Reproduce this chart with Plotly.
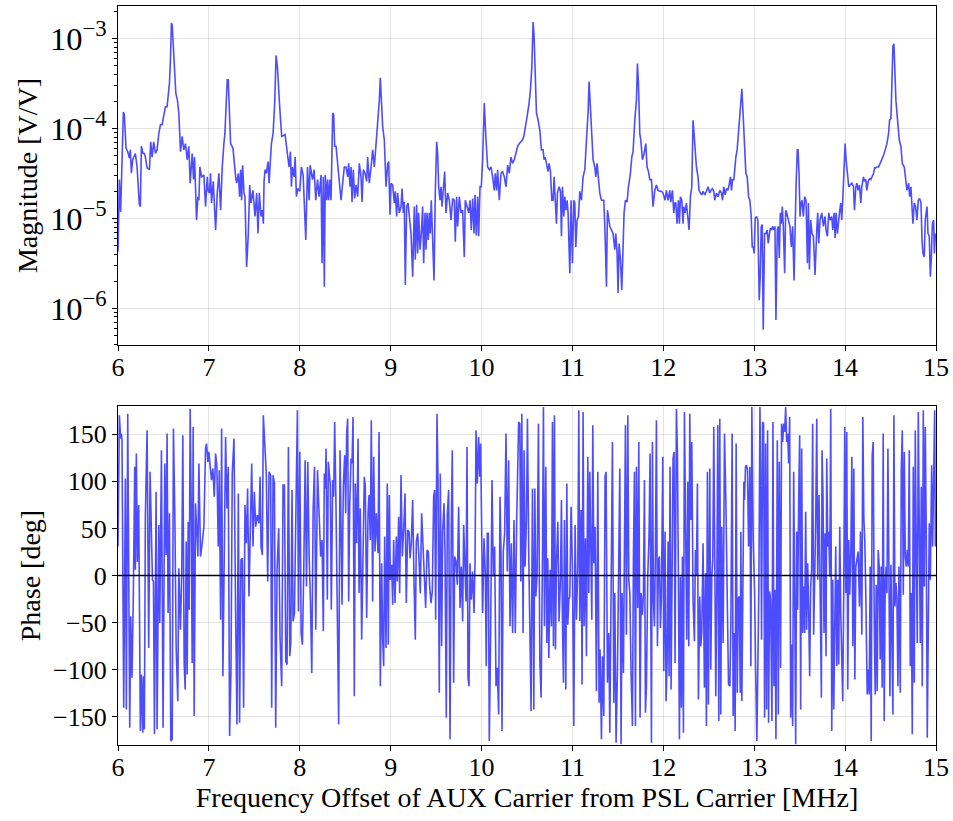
import plotly.graph_objects as go

# ---------------- magnitude data (frequency offset in MHz, log10 of |H| in V/V) ----------------
mag_freq_mhz = [
    6.000, 6.015, 6.029, 6.059, 6.070, 6.088, 6.107, 6.125, 6.136, 6.147,
    6.162, 6.191, 6.210, 6.235, 6.246, 6.257, 6.276, 6.290, 6.301, 6.320,
    6.346, 6.360, 6.375, 6.393, 6.412, 6.430, 6.449, 6.467, 6.485, 6.504,
    6.522, 6.540, 6.551, 6.566, 6.577, 6.588, 6.596, 6.614, 6.636, 6.654,
    6.669, 6.688, 6.706, 6.724, 6.743, 6.761, 6.779, 6.794, 6.816, 6.831,
    6.842, 6.864, 6.879, 6.890, 6.901, 6.919, 6.945, 6.963, 6.982, 6.993,
    7.007, 7.018, 7.029, 7.048, 7.074, 7.092, 7.110, 7.129, 7.147, 7.165,
    7.176, 7.202, 7.213, 7.239, 7.265, 7.294, 7.305, 7.324, 7.338, 7.349,
    7.360, 7.371, 7.386, 7.397, 7.415, 7.434, 7.449, 7.463, 7.485, 7.507,
    7.526, 7.540, 7.555, 7.574, 7.588, 7.599, 7.607, 7.618, 7.632, 7.651,
    7.662, 7.676, 7.688, 7.706, 7.724, 7.739, 7.754, 7.779, 7.801, 7.838,
    7.864, 7.882, 7.897, 7.908, 7.919, 7.938, 7.949, 7.963, 7.978, 8.000,
    8.018, 8.037, 8.066, 8.085, 8.103, 8.114, 8.140, 8.158, 8.176, 8.195,
    8.213,
    8.234, 8.245, 8.259, 8.270, 8.281, 8.296, 8.307, 8.318, 8.333, 8.344,
    8.362, 8.373, 8.384, 8.399, 8.417, 8.435, 8.454, 8.472, 8.490, 8.509,
    8.527, 8.538, 8.553, 8.564, 8.575, 8.589, 8.604, 8.619, 8.637, 8.655,
    8.674, 8.685, 8.699, 8.718, 8.736, 8.747, 8.765, 8.784, 8.802, 8.820,
    8.839, 8.857, 8.875, 8.886, 8.901, 8.912, 8.930, 8.949, 8.967, 8.978,
    8.993, 9.004, 9.022, 9.040, 9.051, 9.066, 9.077, 9.095, 9.114, 9.125,
    9.139, 9.150, 9.161, 9.176, 9.191, 9.205, 9.224, 9.242, 9.260, 9.271,
    9.286, 9.297, 9.308, 9.323, 9.337, 9.352, 9.363, 9.378, 9.389, 9.400,
    9.414, 9.425, 9.436, 9.447, 9.462, 9.477, 9.491, 9.506, 9.517, 9.528,
    9.543, 9.554, 9.565, 9.579, 9.594, 9.609, 9.627, 9.645, 9.664, 9.682,
    9.700, 9.711, 9.726, 9.737, 9.755, 9.774, 9.792, 9.810, 9.821, 9.840,
    9.858, 9.873, 9.887, 9.902, 9.917, 9.928, 9.942, 9.957, 9.968, 9.983,
    9.997, 10.012, 10.030, 10.049, 10.067, 10.085, 10.104, 10.122, 10.140, 10.151,
    10.166, 10.177, 10.195, 10.214, 10.232, 10.250, 10.269, 10.287, 10.305, 10.324,
    10.342, 10.360, 10.379, 10.397, 10.415,
    10.428, 10.450, 10.465, 10.487, 10.501, 10.523, 10.538, 10.553, 10.567, 10.578,
    10.589, 10.604, 10.622, 10.641, 10.659, 10.677, 10.688, 10.699, 10.714, 10.732,
    10.743, 10.758, 10.773, 10.787, 10.798, 10.813, 10.824, 10.835, 10.853, 10.868,
    10.879, 10.890, 10.905, 10.916, 10.927, 10.941, 10.952, 10.971, 10.985, 11.000,
    11.015, 11.026, 11.037, 11.051, 11.066, 11.081, 11.099, 11.117, 11.136, 11.154,
    11.172, 11.183, 11.198, 11.213, 11.227, 11.246, 11.257, 11.271, 11.282, 11.301,
    11.319, 11.345, 11.359, 11.374, 11.385, 11.400, 11.411, 11.429, 11.447, 11.466,
    11.477, 11.491, 11.502, 11.513, 11.528, 11.543, 11.557, 11.568, 11.583, 11.601,
    11.616, 11.638, 11.653, 11.667, 11.686, 11.704, 11.715, 11.726, 11.741, 11.752,
    11.770, 11.788, 11.807, 11.821, 11.836, 11.851, 11.869, 11.887, 11.906, 11.924,
    11.942, 11.961, 11.979, 11.997, 12.008, 12.019, 12.034, 12.052, 12.071, 12.082,
    12.100, 12.115, 12.126, 12.137, 12.151, 12.166, 12.177, 12.188, 12.203, 12.217,
    12.225, 12.239, 12.254, 12.272, 12.283, 12.298, 12.313, 12.320, 12.327, 12.338,
    12.349, 12.364, 12.382, 12.393, 12.408, 12.423, 12.437, 12.456, 12.474, 12.492,
    12.511, 12.522, 12.540, 12.555, 12.566, 12.584, 12.602,
    12.621, 12.640, 12.651, 12.665, 12.680, 12.695, 12.710, 12.724, 12.739, 12.750,
    12.761, 12.776, 12.787, 12.798, 12.812, 12.827, 12.842, 12.853, 12.864, 12.879,
    12.893, 12.908, 12.923, 12.938, 12.952, 12.967, 12.978, 12.989, 13.000, 13.011,
    13.026, 13.040, 13.055, 13.066, 13.077, 13.088, 13.099, 13.114, 13.129, 13.143,
    13.154, 13.165, 13.176, 13.191, 13.202, 13.217, 13.228, 13.239, 13.254, 13.265,
    13.276, 13.287, 13.298, 13.309, 13.320, 13.335, 13.346, 13.357, 13.375, 13.393,
    13.408, 13.423, 13.438, 13.449, 13.460, 13.474, 13.482, 13.493, 13.504, 13.515,
    13.526, 13.540, 13.555, 13.570, 13.585, 13.596, 13.607, 13.621, 13.636, 13.651,
    13.669, 13.688, 13.699, 13.710, 13.724, 13.743, 13.761, 13.779, 13.790, 13.805,
    13.820, 13.835, 13.853, 13.864, 13.879, 13.890, 13.901, 13.915, 13.926, 13.938,
    13.952, 13.963, 13.974, 13.989, 14.000, 14.011, 14.026, 14.040, 14.055, 14.074,
    14.092, 14.103, 14.118, 14.129, 14.143, 14.158, 14.173, 14.184, 14.202, 14.213,
    14.228, 14.239, 14.254, 14.268, 14.283, 14.294, 14.313, 14.324, 14.338, 14.349,
    14.368, 14.386, 14.404, 14.423, 14.441, 14.460, 14.478, 14.489, 14.504, 14.515,
    14.526, 14.537, 14.548, 14.559, 14.577, 14.596, 14.614, 14.629, 14.651, 14.665,
    14.680, 14.699, 14.710, 14.724, 14.735, 14.746, 14.761, 14.776, 14.790, 14.805,
    14.820, 14.835, 14.846, 14.857, 14.871, 14.882, 14.901, 14.912, 14.926, 14.938,
    14.949, 14.960, 14.974, 14.982, 14.993,
]

mag_log10 = [
    -5.37, -4.57, -4.93, -3.82, -3.85, -4.22, -4.26, -4.33, -4.24, -4.50,
    -4.35, -4.28, -4.43, -4.85, -4.87, -4.20, -4.28, -4.28, -4.32, -4.44,
    -4.46, -4.15, -4.32, -4.15, -4.28, -4.24, -4.06, -3.96, -3.96, -3.87,
    -3.76, -3.76, -3.63, -3.50, -3.24, -2.83, -2.85, -3.17, -3.61, -3.69,
    -3.83, -4.26, -4.09, -4.24, -4.17, -4.35, -4.20, -4.61, -4.28, -4.57,
    -4.32, -5.02, -4.76, -4.80, -4.43, -4.54, -4.52, -4.87, -4.54, -4.70,
    -4.72, -4.50, -4.83, -4.59, -5.13, -4.72, -4.50, -4.91, -4.43, -4.17,
    -4.06, -3.46, -3.46, -4.17, -4.22, -4.54, -4.61, -4.50, -4.76, -4.46,
    -4.80, -4.41, -4.72, -4.76, -5.54, -5.17, -4.63, -4.83, -4.69, -4.98,
    -4.72, -5.17, -4.72, -4.98, -4.91, -5.06, -4.59, -4.46, -4.50, -4.37,
    -4.61, -4.37, -4.17, -4.06, -3.72, -3.19, -3.32, -3.76, -4.09, -4.07,
    -4.28, -4.43, -4.26, -4.65, -4.43, -4.54, -4.32, -4.76, -4.67, -4.70,
    -4.43, -4.52, -5.24, -4.43, -4.80, -4.41, -4.57, -4.46, -4.80, -4.57,
    -4.76,
    -4.52, -5.50, -4.54, -5.76, -4.52, -4.80, -4.57, -4.80, -4.57, -4.80,
    -3.83, -3.85, -4.20, -4.20, -4.43, -4.65, -4.80, -4.61, -4.43, -4.43,
    -4.54, -4.39, -4.65, -4.43, -4.82, -4.46, -4.78, -4.63, -4.76, -4.39,
    -4.54, -4.82, -4.46, -4.50, -4.59, -4.32, -4.61, -4.43, -4.24, -4.43,
    -4.17, -3.98, -3.69, -3.44, -3.69, -3.98, -4.13, -4.65, -4.39, -4.37,
    -4.96, -4.61, -4.63, -4.83, -4.70, -4.98, -4.72, -4.94, -4.87, -4.67,
    -4.94, -4.82, -5.74, -4.87, -4.83, -5.02, -5.17, -5.65, -4.87, -5.46,
    -4.85, -5.39, -4.94, -5.35, -5.17, -4.87, -5.50, -4.94, -5.35, -4.94,
    -5.24, -4.94, -5.17, -4.80, -5.17, -5.69, -4.72, -4.15, -4.28, -4.65,
    -4.80, -4.65, -4.87, -4.69, -4.48, -4.94, -4.72, -4.80, -5.02, -4.78,
    -4.80, -5.26, -4.76, -5.09, -4.76, -4.94, -4.91, -5.43, -4.80, -4.87,
    -4.94, -4.80, -5.13, -4.78, -5.17, -4.74, -5.19, -4.76, -5.20, -4.65,
    -4.65, -4.35, -3.72, -4.13, -4.43, -4.46, -4.43, -4.54, -4.69, -4.50,
    -4.69, -4.46, -4.80, -4.50, -4.48, -4.54, -4.65, -4.41, -4.50, -4.32,
    -4.39, -4.35, -4.28, -4.20, -4.17,
    -4.15, -4.13, -4.09, -3.98, -3.87, -3.72, -3.57, -3.32, -2.82, -2.98,
    -3.50, -3.83, -3.91, -4.02, -4.24, -4.24, -4.35, -4.32, -4.39, -4.48,
    -4.39, -4.48, -4.80, -4.80, -4.54, -4.80, -5.06, -4.72, -4.65, -4.70,
    -5.20, -4.65, -4.98, -4.76, -4.91, -4.80, -4.94, -5.61, -4.80, -5.50,
    -4.80, -4.83, -5.32, -5.02, -4.98, -4.70, -4.80, -4.54, -4.46, -4.13,
    -3.83, -3.48, -3.80, -4.09, -4.35, -4.43, -4.54, -4.39, -4.50, -4.72,
    -4.80, -4.80, -5.17, -5.76, -4.91, -5.02, -5.09, -5.13, -5.17, -5.35,
    -5.17, -5.39, -5.83, -5.28, -5.46, -5.80, -5.32, -4.94, -4.80, -4.82,
    -4.65, -4.50, -4.32, -4.26, -3.91, -3.69, -3.28, -3.50, -4.06, -4.13,
    -4.35, -4.28, -4.17, -4.43, -4.48, -4.57, -4.57, -4.87, -4.69, -4.63,
    -4.69, -4.70, -4.70, -4.72, -4.76, -4.80, -4.69, -4.80, -4.69, -4.82,
    -4.69, -4.94, -4.83, -4.83, -5.06, -4.80, -5.06, -4.76, -4.80, -5.06,
    -4.87, -4.94, -4.83, -5.09, -5.13, -4.76, -4.65, -4.28, -3.91, -4.06,
    -4.28, -4.43, -4.54, -4.69, -4.72, -4.74, -4.70, -4.74, -4.70, -4.65,
    -4.72, -4.69, -4.67, -4.70, -4.80, -4.72, -4.76,
    -4.69, -4.72, -4.80, -4.65, -4.74, -4.67, -4.69, -4.63, -4.54, -4.69,
    -4.57, -4.57, -4.43, -4.32, -4.24, -4.06, -3.91, -3.72, -3.56, -3.87,
    -4.20, -4.50, -4.54, -4.76, -4.80, -4.98, -5.32, -5.32, -5.39, -5.00,
    -4.98, -5.02, -5.91, -5.65, -5.09, -5.07, -6.24, -5.17, -5.17, -5.13,
    -5.28, -5.17, -5.11, -5.13, -5.09, -5.13, -5.09, -6.13, -5.13, -5.09,
    -5.44, -4.94, -5.06, -4.87, -5.09, -5.61, -4.91, -4.94, -5.02, -5.09,
    -5.32, -5.09, -5.69, -4.87, -4.65, -4.24, -4.24, -4.50, -4.98, -4.83,
    -4.80, -4.98, -4.76, -4.80, -5.50, -4.83, -5.57, -5.02, -5.17, -5.20,
    -5.63, -5.13, -4.94, -5.28, -5.02, -4.94, -5.09, -4.98, -5.13, -5.20,
    -4.94, -5.02, -4.98, -5.13, -4.94, -5.22, -4.94, -5.17, -5.02, -4.94,
    -4.83, -5.02, -4.80, -4.50, -4.17, -4.35, -4.54, -4.65, -4.63, -4.61,
    -4.65, -4.91, -4.65, -4.61, -4.69, -4.63, -4.83, -4.65, -4.54, -4.59,
    -4.57, -4.69, -4.59, -4.56, -4.57, -4.54, -4.50, -4.44, -4.44, -4.43,
    -4.43, -4.39, -4.35, -4.30, -4.24, -4.17, -4.06, -3.91, -3.89, -3.54,
    -3.09, -3.06, -3.32, -3.69, -3.91, -4.13, -4.20, -4.39, -4.43, -4.57,
    -4.69, -4.61, -4.76, -4.65, -4.80, -5.06, -4.83, -4.87, -5.02, -4.80,
    -4.78, -4.83, -5.24, -5.39, -5.43, -5.02, -4.87, -5.17, -5.20, -5.65,
    -5.43, -5.06, -5.02, -5.39, -5.17,
]

# ---------------- phase data (frequency offset in MHz, phase in degrees) ----------------
phase_freq_mhz = [
    6.000, 6.015, 6.029, 6.037, 6.044, 6.063, 6.081, 6.092, 6.107, 6.118,
    6.129, 6.140, 6.154, 6.169, 6.184, 6.191, 6.202, 6.213, 6.228, 6.246,
    6.257, 6.272, 6.279, 6.290, 6.301, 6.320, 6.338, 6.353, 6.368, 6.379,
    6.390, 6.401, 6.419, 6.430, 6.449, 6.460, 6.478, 6.496, 6.515, 6.529,
    6.540, 6.551, 6.566, 6.581, 6.596, 6.610, 6.625, 6.640, 6.658, 6.669,
    6.688, 6.702, 6.713, 6.728, 6.739, 6.750, 6.761, 6.772, 6.783, 6.794,
    6.805, 6.816, 6.827, 6.838, 6.853, 6.868, 6.879, 6.890, 6.908, 6.926,
    6.945, 6.963, 6.974, 6.989, 7.000, 7.018, 7.029, 7.044, 7.059, 7.074,
    7.088, 7.103, 7.114, 7.129, 7.140, 7.154, 7.169, 7.184, 7.199, 7.213,
    7.228, 7.243, 7.257, 7.276, 7.294, 7.309, 7.324, 7.338, 7.353, 7.368,
    7.382, 7.397, 7.412, 7.426, 7.441, 7.456, 7.471, 7.485, 7.500, 7.515,
    7.533, 7.551, 7.563, 7.574, 7.588, 7.599, 7.618, 7.632, 7.647, 7.662,
    7.680, 7.691, 7.706, 7.721, 7.735, 7.750, 7.768, 7.783, 7.801, 7.816,
    7.831, 7.846, 7.860, 7.875, 7.890, 7.901, 7.915, 7.926, 7.941, 7.956,
    7.974, 7.985, 8.000, 8.015, 8.029, 8.044, 8.059, 8.074, 8.088, 8.103,
    8.118, 8.132, 8.147, 8.162, 8.176, 8.195,
    8.230, 8.245, 8.259, 8.270, 8.281, 8.289, 8.303, 8.314, 8.325, 8.336,
    8.347, 8.362, 8.373, 8.384, 8.399, 8.413, 8.428, 8.443, 8.454, 8.465,
    8.479, 8.494, 8.505, 8.516, 8.527, 8.538, 8.549, 8.564, 8.575, 8.586,
    8.600, 8.611, 8.626, 8.641, 8.652, 8.666, 8.681, 8.696, 8.710, 8.721,
    8.736, 8.751, 8.762, 8.776, 8.787, 8.802, 8.813, 8.828, 8.842, 8.861,
    8.872, 8.886, 8.901, 8.912, 8.923, 8.934, 8.949, 8.963, 8.974, 8.985,
    8.996, 9.011, 9.022, 9.033, 9.048, 9.062, 9.073, 9.088, 9.099, 9.114,
    9.128, 9.143, 9.158, 9.172, 9.187, 9.202, 9.213, 9.227, 9.242, 9.257,
    9.271, 9.282, 9.297, 9.312, 9.326, 9.341, 9.356, 9.370, 9.385, 9.400,
    9.414, 9.429, 9.444, 9.458, 9.473, 9.484, 9.495, 9.510, 9.521, 9.535,
    9.546, 9.561, 9.572, 9.587, 9.598, 9.612, 9.623, 9.638, 9.653, 9.667,
    9.678, 9.693, 9.704, 9.719, 9.733, 9.748, 9.763, 9.777, 9.792, 9.803,
    9.814, 9.829, 9.840, 9.851, 9.862, 9.873, 9.887, 9.902, 9.917, 9.928,
    9.939, 9.953, 9.968, 9.979, 9.990, 10.001, 10.012, 10.027, 10.041, 10.052,
    10.063, 10.074, 10.085, 10.100, 10.115, 10.129, 10.144, 10.159, 10.173, 10.188,
    10.203, 10.214, 10.225, 10.239, 10.254, 10.269, 10.283, 10.298, 10.313, 10.327,
    10.342, 10.357, 10.371, 10.386, 10.408,
    10.421, 10.432, 10.443, 10.457, 10.468, 10.479, 10.494, 10.505, 10.520, 10.531,
    10.545, 10.560, 10.575, 10.586, 10.597, 10.611, 10.626, 10.641, 10.655, 10.670,
    10.681, 10.692, 10.707, 10.718, 10.729, 10.740, 10.754, 10.769, 10.780, 10.791,
    10.802, 10.813, 10.824, 10.839, 10.853, 10.868, 10.879, 10.890, 10.901, 10.912,
    10.927, 10.938, 10.949, 10.960, 10.971, 10.985, 11.000, 11.015, 11.029, 11.044,
    11.059, 11.070, 11.081, 11.095, 11.106, 11.117, 11.128, 11.143, 11.154, 11.169,
    11.180, 11.191, 11.202, 11.213, 11.224, 11.235, 11.249, 11.264, 11.279, 11.293,
    11.304, 11.319, 11.330, 11.345, 11.359, 11.370, 11.385, 11.400, 11.411, 11.425,
    11.440, 11.455, 11.466, 11.480, 11.495, 11.510, 11.521, 11.535, 11.546, 11.561,
    11.572, 11.583, 11.594, 11.609, 11.620, 11.631, 11.645, 11.660, 11.671, 11.682,
    11.693, 11.704, 11.719, 11.730, 11.744, 11.755, 11.770, 11.781, 11.792, 11.803,
    11.814, 11.829, 11.843, 11.854, 11.869, 11.880, 11.891, 11.902, 11.913, 11.924,
    11.935, 11.946, 11.957, 11.968, 11.979, 11.994, 12.005, 12.019, 12.030, 12.041,
    12.052, 12.063, 12.074, 12.085, 12.096, 12.107, 12.118, 12.129, 12.144, 12.155,
    12.166, 12.177, 12.188, 12.199, 12.210, 12.221, 12.232, 12.243, 12.258, 12.269,
    12.280, 12.291, 12.302, 12.313, 12.327, 12.342, 12.353, 12.364, 12.375, 12.386,
    12.401, 12.412, 12.423, 12.437, 12.452, 12.463, 12.474, 12.485, 12.496, 12.511,
    12.522, 12.533, 12.544, 12.555, 12.566, 12.577, 12.588, 12.599, 12.610,
    12.621, 12.632, 12.643, 12.658, 12.673, 12.688, 12.702, 12.717, 12.732, 12.743,
    12.757, 12.768, 12.779, 12.790, 12.801, 12.813, 12.824, 12.835, 12.846, 12.853,
    12.864, 12.875, 12.886, 12.893, 12.904, 12.915, 12.926, 12.938, 12.952, 12.963,
    12.974, 12.989, 13.004, 13.015, 13.029, 13.040, 13.051, 13.063, 13.070, 13.081,
    13.092, 13.103, 13.114, 13.125, 13.136, 13.147, 13.158, 13.169, 13.180, 13.195,
    13.206, 13.217, 13.228, 13.239, 13.254, 13.265, 13.276, 13.290, 13.301, 13.313,
    13.324, 13.335, 13.346, 13.357, 13.368, 13.379, 13.390, 13.401, 13.412, 13.423,
    13.434, 13.445, 13.456, 13.467, 13.478, 13.489, 13.500, 13.511, 13.522, 13.533,
    13.544, 13.555, 13.566, 13.577, 13.588, 13.599, 13.610, 13.621, 13.632, 13.643,
    13.654, 13.665, 13.676, 13.688, 13.699, 13.713, 13.724, 13.739, 13.746, 13.757,
    13.768, 13.779, 13.790, 13.798, 13.809, 13.820, 13.831, 13.842, 13.853, 13.864,
    13.875, 13.886, 13.897, 13.908, 13.919, 13.930, 13.941, 13.952, 13.963, 13.974,
    13.985, 13.996, 14.007, 14.018, 14.029, 14.040, 14.051, 14.063, 14.074, 14.085,
    14.096, 14.107, 14.118, 14.132, 14.143, 14.158, 14.169, 14.184, 14.195, 14.206,
    14.217, 14.228, 14.243, 14.254, 14.265, 14.276, 14.287, 14.298, 14.309, 14.320,
    14.331, 14.342, 14.353, 14.364, 14.375, 14.386, 14.397, 14.408, 14.419, 14.430,
    14.441, 14.452, 14.460, 14.471, 14.482, 14.493, 14.504, 14.515, 14.526, 14.537,
    14.548, 14.559, 14.570, 14.581, 14.592, 14.607, 14.618, 14.629, 14.640, 14.651,
    14.662, 14.673, 14.684, 14.695, 14.706, 14.717, 14.728, 14.739, 14.750, 14.761,
    14.772, 14.783, 14.794, 14.805, 14.816, 14.827, 14.838, 14.849, 14.860, 14.871,
    14.882, 14.893, 14.904, 14.915, 14.926, 14.938, 14.952, 14.963, 14.974, 14.985,
    14.993,
]

phase_deg = [
    30.7, 170.1, 145.4, 150.7, 143.7, -140.5, 103.1, -142.3, 171.9, -25.8,
    -161.7, -43.4, -108.7, -18.7, 115.4, 6.0, 129.6, 14.5, 74.8, -165.2,
    -105.2, -166.9, -107.0, -163.4, 62.4, 154.3, -77.0, 110.1, 48.4, -4.6,
    -6.4, -168.7, 89.0, -163.4, 53.7, -50.5, 133.1, -161.7, 119.0, 21.9,
    150.7, -39.9, 66.0, -175.8, -174.0, 156.0, 66.0, -77.0, -133.4, 7.8,
    -57.5, 7.8, 149.0, -92.8, -121.1, 36.0, -105.2, 57.2, -36.4, 177.2,
    76.6, -92.8, 157.8, -149.3, 76.6, 51.9, 20.1, 119.0, 20.1, 34.2,
    51.9, 134.8, 140.1, 120.7, 131.3, 111.9, 101.3, 113.7, 83.7, 129.6,
    115.4, 30.7, 111.9, -46.9, 156.0, -107.0, 30.7, 147.2, 71.3, 115.4,
    -170.5, -101.7, 108.4, 145.4, -39.9, -158.1, 87.2, -156.4, 16.6, 18.4,
    -140.5, 74.8, 34.2, 92.5, -22.2, 64.2, 119.0, 30.7, 89.0, 51.9,
    64.2, 55.4, 104.8, 30.7, 21.9, 170.1, 131.3, 106.6, -6.4, 110.1,
    106.6, -140.5, 106.6, 97.8, -161.7, 6.0, 50.1, -66.4, -117.5, 96.0,
    96.0, -91.1, -94.6, 136.6, -85.8, -71.7, 90.7, -48.7, -39.9, 87.2,
    175.4, -38.1, 131.3, -61.1, -73.4, 6.0, 122.5, -11.6, 120.7, 20.1,
    -29.3, -103.4, 71.3, 115.4, -57.5, 111.9,
    20.1, 37.8, -59.3, 108.4, 92.5, 134.8, -25.8, 120.7, 104.8, 96.0,
    -36.4, 101.3, 83.7, 163.1, 69.5, -71.7, -158.1, 133.1, 69.5, -31.1,
    94.3, 127.8, 66.0, 150.7, 166.6, -27.5, 73.1, 124.3, 119.0, 168.4,
    -128.1, 97.8, 34.2, 145.4, -18.7, 71.3, -68.1, 34.2, 104.8, 94.3,
    -45.2, 66.0, 85.4, 37.8, 164.9, -27.5, 126.0, 25.4, 66.0, 23.7,
    152.5, -117.5, 13.1, -66.4, -96.4, 41.3, -77.0, 97.8, -73.4, 85.4,
    -4.6, 11.3, -31.1, 37.8, -29.3, 41.3, -6.4, 62.5, -18.7, 106.6,
    20.1, 48.4, 87.2, -29.3, 48.4, 46.6, 18.4, 34.2, 80.1, -6.4,
    -68.1, 36.0, 44.8, 16.6, -18.7, 66.0, 27.2, -6.4, -34.6, 27.2,
    25.4, -11.6, -29.3, -16.9, 83.7, 90.7, -46.9, 171.9, 99.5, -124.6,
    108.4, -75.2, 46.6, 76.6, 23.7, -151.1, 64.2, 90.7, -174.0, 53.7,
    133.1, -114.0, 20.1, 14.8, -9.9, 73.1, -34.6, 9.5, -48.7, 53.7,
    7.8, -27.5, 136.6, -108.7, -117.5, 13.1, -25.8, 4.2, -39.9, 13.1,
    154.3, 97.8, 147.2, 104.8, 140.1, 41.3, -39.9, 39.5, 2.5, -96.4,
    44.8, 44.8, -175.8, -61.1, 101.3, -1.1, 30.7, -117.5, -98.1, -147.6,
    83.7, 23.7, -165.2, 25.4, 44.8, 150.7, 4.2, 122.5, -54.0, 34.2,
    -61.1, 59.0, -61.1, 55.4, 163.1,
    161.3, -6.4, 171.9, -61.1, 133.1, 9.5, 59.0, 166.6, 16.6, -54.0,
    -144.0, 92.5, -142.3, 92.5, -22.2, 0.7, 161.3, -89.3, -129.9, 16.6,
    179.0, -54.0, 115.4, -71.7, 18.4, -87.5, 6.0, -54.0, 163.1, -75.2,
    170.1, -78.7, 11.3, 57.2, -48.7, -4.6, 80.1, -48.7, -114.0, 59.0,
    -121.1, 97.8, -52.2, -25.8, -22.2, 73.1, 7.8, -159.9, 53.7, -46.9,
    9.5, 175.4, -48.7, 69.5, -115.8, 173.7, -54.0, 39.5, -85.8, 126.0,
    -18.7, 110.1, 41.3, -46.9, 159.6, 13.1, 51.9, -122.8, 110.1, -135.2,
    -78.7, -174.0, -85.8, -149.3, 104.8, 110.1, -114.0, -61.1, -166.9, -4.6,
    141.9, -135.2, -18.7, -177.6, -101.7, 20.1, 113.7, -179.3, -18.7, -103.4,
    37.8, 159.6, -62.8, 170.1, -4.6, -18.7, -103.4, -159.9, 20.1, 110.1,
    -159.9, 115.4, -34.6, 141.9, -151.1, -18.7, -41.7, -18.7, 101.3, -145.8,
    -117.5, 0.7, 43.1, 129.6, -177.6, 141.9, -25.8, -54.0, 27.2, 164.9,
    -75.2, 16.6, 20.1, -55.8, -22.2, 126.0, -101.7, 46.6, -133.4, -92.8,
    36.0, -107.0, 115.4, -121.1, -4.6, 124.3, 131.3, -92.8, 177.2, 129.6,
    -2.8, -174.0, -1.1, -140.5, 20.1, -166.9, 173.7, 81.9, -68.1, 99.5,
    -75.2, 171.9, 59.0, 141.9, -25.8, -69.9, 27.2, 0.7, 97.8, -131.7,
    -22.2, -75.2, -61.1, 34.2, -119.3, 2.5, -159.9, 110.1, -137.0, 113.7,
    -99.9, -1.1, 16.6, 157.8, -32.8, -128.1, -18.7, 159.6, -154.6,
    166.6, -147.6, 51.9, -71.7, 150.7, 80.1, -4.6, -115.8, -117.5, -50.5,
    150.7, -149.3, -61.1, -165.2, 140.1, -124.6, -24.0, -22.2, -124.6, 46.6,
    -133.4, 44.8, 99.5, 80.1, 115.4, 117.2, 111.9, 30.7, 115.4, -96.4,
    179.0, 37.8, -16.9, -96.4, -175.8, -96.4, -11.6, 179.0, 115.4, -68.1,
    163.1, 161.3, -151.1, 140.1, -142.3, 154.3, -156.4, -16.9, -25.8, -154.6,
    163.1, -117.5, -15.2, -174.0, 143.7, -147.6, 120.7, -98.1, 161.3, 141.9,
    161.3, 152.5, 179.0, 141.9, 150.7, 119.0, 168.4, -151.1, -73.4, -159.9,
    110.1, -18.7, -179.3, 46.6, -36.4, 80.1, 149.0, -142.3, 134.8, -61.1,
    -11.6, -61.1, 67.8, -57.5, 13.1, -36.4, -107.0, -11.6, 6.0, 161.3,
    -62.8, -4.6, 55.4, 166.6, -4.6, 85.4, -1.1, -129.9, 133.1, 83.7,
    -61.1, 44.8, -85.8, 124.3, 30.7, 46.6, -1.1, 177.2, -165.2, -4.6,
    -142.3, -25.8, 30.7, -96.4, -4.6, -94.6, 51.9, -39.9, -110.5, -133.4,
    -15.2, 157.8, -18.7, 152.5, -121.1, 37.8, -20.5, 27.2, 126.0, -75.2,
    113.7, -110.5, 9.5, 21.9, 25.4, -32.8, 46.6, -62.8, 168.4, 60.7,
    36.0, -22.2, -126.4, -99.9, -126.4, 9.5, -175.8, 127.8, 141.9, -43.4,
    -126.4, -9.9, -122.8, 27.2, 9.5, -89.3, 9.5, -119.3, 150.7, -154.6,
    -6.4, 9.5, -18.7, 134.8, -32.8, -128.1, 11.3, -110.5, -147.6, 170.1,
    -32.8, -8.1, -25.8, -117.5, 9.5, -124.6, 111.9, 154.3, -20.5, 131.3,
    20.1, 9.5, 27.2, 9.5, 133.1, -96.4, -18.7, -168.7, 115.4, -114.0,
    154.3, 23.7, -71.7, 173.7, 73.1, -71.7, 94.3, -117.5, 175.4, -11.6,
    157.8, 41.3, -172.3, 4.2, 55.4, -4.6, 117.2, 30.7, 85.4, 175.4,
    30.7,
]

x_ticks = [6, 7, 8, 9, 10, 11, 12, 13, 14, 15]
phase_ticks = [-150, -100, -50, 0, 50, 100, 150]
x_title = "Frequency Offset of AUX Carrier from PSL Carrier [MHz]"
mag_title = "Magnitude [V/V]"
phase_title = "Phase [deg]"

if len(mag_freq_mhz) != len(mag_log10):
    raise ValueError(f"magnitude length mismatch {len(mag_freq_mhz)} vs {len(mag_log10)}")
if len(phase_freq_mhz) != len(phase_deg):
    raise ValueError(f"phase length mismatch {len(phase_freq_mhz)} vs {len(phase_deg)}")

mag_vv = [10 ** v for v in mag_log10]

LINE = "rgb(77,77,255)"
FONT = "Liberation Serif"
FS = 26
TFS = 28
GRID = "rgba(0,0,0,0.10)"

fig = go.Figure()
fig.add_trace(go.Scatter(x=mag_freq_mhz, y=mag_vv, mode="lines",
                         line=dict(color=LINE, width=1.6), xaxis="x", yaxis="y",
                         showlegend=False, hoverinfo="skip"))
fig.add_trace(go.Scatter(x=phase_freq_mhz, y=phase_deg, mode="lines",
                         line=dict(color=LINE, width=1.6), xaxis="x2", yaxis="y2",
                         showlegend=False, hoverinfo="skip"))

common_x = dict(range=[6, 15], tickvals=x_ticks, ticks="outside", ticklen=5, tickwidth=1,
                tickcolor="black", showline=True, linecolor="black", linewidth=1.2, mirror=True,
                showgrid=True, gridcolor=GRID, gridwidth=1, zeroline=False, automargin=False,
                ticklabelstandoff=-6,
                tickfont=dict(family=FONT, size=FS, color="black"))

fig.update_layout(
    width=953, height=821,
    margin=dict(l=118, r=17, t=6, b=76),
    paper_bgcolor="white", plot_bgcolor="white",
    font=dict(family=FONT, size=FS, color="black"),
    xaxis=dict(domain=[0, 1], anchor="y", **common_x),
    yaxis=dict(domain=[0.5413, 1.0], anchor="x", type="log", automargin=False,
               range=[-6.408, -2.641], dtick=1, exponentformat="power", showexponent="all",
               ticks="outside", ticklen=5, tickwidth=1, tickcolor="black",
               minor=dict(ticks="outside", ticklen=3, tickwidth=1, tickcolor="black", showgrid=False),
               showline=True, linecolor="black", linewidth=1.2, mirror=True,
               showgrid=True, gridcolor=GRID, gridwidth=1, zeroline=False,
               tickfont=dict(family=FONT, size=FS, color="black"),
               title=dict(text=mag_title, font=dict(family=FONT, size=TFS), standoff=4)),
    xaxis2=dict(domain=[0, 1], anchor="y2",
                title=dict(text=x_title, font=dict(family=FONT, size=TFS), standoff=4),
                **common_x),
    yaxis2=dict(domain=[0.0, 0.4587], anchor="x2", range=[-180, 180], tickvals=phase_ticks,
                automargin=False,
                ticks="outside", ticklen=5, tickwidth=1, tickcolor="black",
                showline=True, linecolor="black", linewidth=1.2, mirror=True,
                showgrid=True, gridcolor=GRID, gridwidth=1, zeroline=False,
                tickfont=dict(family=FONT, size=FS, color="black"),
                title=dict(text=phase_title, font=dict(family=FONT, size=TFS), standoff=4)),
    shapes=[dict(type="line", xref="x2 domain", yref="y2", x0=0, x1=1, y0=0, y1=0,
                 line=dict(color="black", width=1.5), layer="above")],
)

fig.write_html("out.html", config={"displayModeBar": False},
               post_script="document.body.style.margin='0';document.body.style.padding='0';")
